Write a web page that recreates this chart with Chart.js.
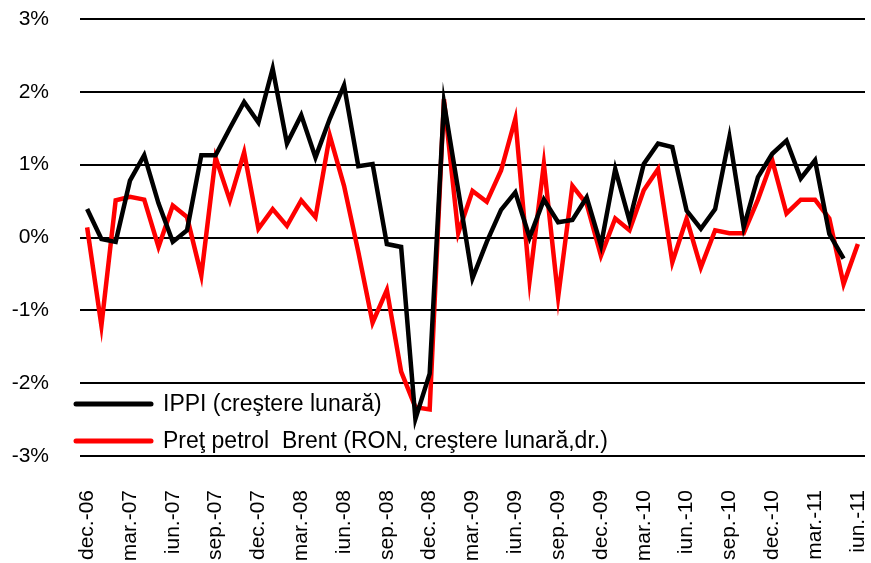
<!DOCTYPE html>
<html>
<head>
<meta charset="utf-8">
<script src="https://cdn.jsdelivr.net/npm/chart.js@4.4.1/dist/chart.umd.min.js"></script>
<style>
  html, body { margin: 0; padding: 0; background: #fff; }
  #wrap { width: 871px; height: 563px; position: relative; }
</style>
</head>
<body>
<div id="wrap"><canvas id="c" width="871" height="563"></canvas></div>
<script>
const categories = [
  'dec.-06','ian.-07','feb.-07','mar.-07','apr.-07','mai.-07','iun.-07','iul.-07','aug.-07','sep.-07','oct.-07','nov.-07',
  'dec.-07','ian.-08','feb.-08','mar.-08','apr.-08','mai.-08','iun.-08','iul.-08','aug.-08','sep.-08','oct.-08','nov.-08',
  'dec.-08','ian.-09','feb.-09','mar.-09','apr.-09','mai.-09','iun.-09','iul.-09','aug.-09','sep.-09','oct.-09','nov.-09',
  'dec.-09','ian.-10','feb.-10','mar.-10','apr.-10','mai.-10','iun.-10','iul.-10','aug.-10','sep.-10','oct.-10','nov.-10',
  'dec.-10','ian.-11','feb.-11','mar.-11','apr.-11','mai.-11','iun.-11'
];
const ippi = [
  0.39,-0.02,-0.06,0.78,1.13,0.47,-0.06,0.10,1.13,1.13,1.50,1.86,
  1.58,2.32,1.29,1.68,1.10,1.63,2.09,0.98,1.01,-0.09,-0.13,-2.49,
  -1.87,1.85,0.65,-0.56,-0.06,0.38,0.62,0.00,0.52,0.21,0.24,0.55,
  -0.11,0.94,0.23,1.01,1.29,1.24,0.37,0.12,0.39,1.38,0.14,0.83,
  1.15,1.33,0.81,1.06,0.05,-0.29,null
];
const brent = [
  0.14,-1.21,0.51,0.56,0.52,-0.13,0.44,0.28,-0.52,1.10,0.51,1.17,
  0.12,0.39,0.16,0.51,0.28,1.40,0.71,-0.20,-1.17,-0.72,-1.84,-2.33,
  -2.36,1.90,0.06,0.64,0.49,0.92,1.63,-0.59,1.01,-0.82,0.71,0.46,
  -0.25,0.26,0.10,0.65,0.94,-0.34,0.26,-0.41,0.10,0.06,0.06,0.52,
  1.06,0.33,0.52,0.52,0.26,-0.64,-0.09
];
const seriesLabels = ['IPPI (creştere lunară)', 'Preţ petrol  Brent (RON, creştere lunară,dr.)'];
const yTicks = [-3,-2,-1,0,1,2,3];

const FONT = "'Liberation Sans', Arial, sans-serif";

const legendPlugin = {
  id: 'customLegend',
  afterDatasetsDraw(chart) {
    const ctx = chart.ctx;
    const rows = [404, 441];
    ctx.save();
    chart.data.datasets.forEach((ds, i) => {
      const y = rows[i];
      ctx.strokeStyle = ds.borderColor;
      ctx.lineWidth = 5;
      ctx.lineCap = 'round';
      ctx.beginPath();
      ctx.moveTo(76, y);
      ctx.lineTo(151, y);
      ctx.stroke();
      ctx.fillStyle = '#000';
      ctx.font = '23px ' + FONT;
      ctx.textBaseline = 'middle';
      ctx.textAlign = 'left';
      ctx.fillText(ds.label, 163, y + 1);
    });
    ctx.restore();
  }
};

new Chart(document.getElementById('c'), {
  type: 'line',
  data: {
    labels: categories,
    datasets: [
      { label: seriesLabels[0], data: ippi, borderColor: '#000000', backgroundColor: '#000000',
        borderWidth: 4.5, pointRadius: 0, tension: 0, spanGaps: false },
      { label: seriesLabels[1], data: brent, borderColor: '#FF0000', backgroundColor: '#FF0000',
        borderWidth: 4.5, pointRadius: 0, tension: 0 }
    ]
  },
  options: {
    responsive: false,
    animation: false,
    devicePixelRatio: 1,
    layout: { padding: { top: 19, right: 6, left: 0, bottom: 0 } },
    plugins: { legend: { display: false }, tooltip: { enabled: false } },
    scales: {
      x: {
        type: 'category',
        offset: true,
        grid: { display: false, drawTicks: false },
        border: { display: false },
        afterFit: s => { s.height = 107; s.paddingLeft = 0; s.paddingRight = 0; s.paddingTop = 0; s.paddingBottom = 0; },
        ticks: {
          autoSkip: false,
          minRotation: 90,
          maxRotation: 90,
          padding: 34,
          color: '#000',
          font: { family: FONT, size: 21 },
          callback: function(v, idx) { return idx % 3 === 0 ? categories[idx] : ''; }
        }
      },
      y: {
        min: yTicks[0],
        max: yTicks[yTicks.length - 1],
        afterBuildTicks: s => { s.ticks = yTicks.map(v => ({ value: v })); },
        afterFit: s => { s.width = 80; s.paddingTop = 0; s.paddingBottom = 0; s.paddingLeft = 0; s.paddingRight = 0; },
        grid: { color: '#000', lineWidth: 2, drawTicks: false },
        border: { display: false },
        ticks: {
          padding: 31,
          color: '#000',
          font: { family: FONT, size: 21 },
          callback: v => v + '%'
        }
      }
    }
  },
  plugins: [legendPlugin]
});
</script>
</body>
</html>
